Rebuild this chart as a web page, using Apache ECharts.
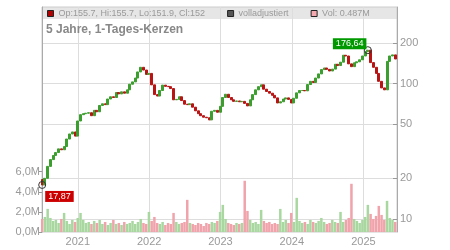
<!DOCTYPE html>
<html>
<head>
<meta charset="utf-8">
<script src="https://cdn.jsdelivr.net/npm/echarts@6/dist/echarts.min.js"></script>
<style>
  html, body { margin: 0; padding: 0; background: #fff; }
  #chart { width: 450px; height: 250px; }
</style>
</head>
<body>
<div id="chart"></div>
<script>
// one candle every 14 days, starting 3 Jul 2020
const startDate = new Date(2020, 6, 3)
const stepDays = 14
const firstOpen = 19.6

const closes = [
  17.87, 20, 24.5, 27.5, 29.5, 31, 33, 32.5, 34.3, 39,
  42.5, 44, 41, 53, 59, 60, 60.5, 61, 58, 63.5,
  62, 69, 71, 70, 77, 80, 79, 86, 84, 87,
  85, 90, 99, 103, 110, 122, 132, 126, 117, 119,
  98, 83, 81, 89, 97.5, 95.5, 95, 92, 76, 76.5,
  80, 75, 70.5, 70, 71, 67, 63, 60, 58, 56.5,
  56, 54, 62.5, 63.5, 61.5, 68, 79, 83.5, 79, 76,
  74, 74.5, 73.5, 74, 71.5, 68.5, 76, 83, 90, 95,
  98, 91, 87.5, 85, 82, 78.5, 72, 73.5, 77, 78.5,
  76.5, 72, 78, 85.5, 89, 89, 88.5, 98.5, 104, 102,
  110, 118, 127, 130.5, 127.5, 124, 128, 139, 136, 144,
  162, 160, 140, 133.5, 142.5, 145, 150, 160, 172, 176.64,
  143, 132, 119, 104, 93, 90, 146, 160, 163, 152
]

// volume in millions
const volumes = [
  1.3, 1.5, 2.3, 1.4, 1.1, 1.2, 0.9, 1.3, 1.9, 1.1,
  0.8, 1.2, 1.0, 1.4, 1.9, 1.2, 0.9, 1.0, 0.8, 1.1,
  0.9, 1.2, 0.8, 1.0, 0.7, 0.9, 1.2, 0.8, 0.9, 0.7,
  1.0, 0.8, 0.9, 1.1, 0.8, 1.0, 1.3, 0.9, 0.8, 2.0,
  1.1, 1.5, 0.9, 0.8, 1.0, 0.7, 0.9, 0.8, 1.9, 1.0,
  0.8, 0.9, 1.0, 3.2, 0.9, 0.8, 0.7, 0.9, 0.8, 0.6,
  0.9, 0.8, 1.0, 0.9, 1.1, 2.0, 2.7, 1.3, 0.9, 0.8,
  0.7, 0.9, 0.8, 0.9, 5.1, 2.1, 1.2, 0.9, 1.0, 0.8,
  2.2, 1.1, 0.9, 1.0, 0.8, 0.9, 0.8, 2.3, 1.0, 1.2,
  0.9, 1.9, 1.0, 3.4, 1.1, 0.9, 1.0, 0.8, 1.2, 1.0,
  0.9, 1.1, 1.4, 1.0, 0.8, 0.9, 1.2, 1.0, 0.9, 2.0,
  1.0, 1.2, 1.4, 4.8, 1.3, 1.1, 0.9, 1.2, 1.5, 2.7,
  1.8, 1.3, 1.6, 2.6, 1.7, 1.2, 3.1, 1.4, 1.2, 1.0
]

const years = [2021, 2022, 2023, 2024, 2025]
const priceTicks = [10, 20, 50, 100, 200]
const volTicks = [0, 2, 4, 6]
const legendNames = ['Op:155.7, Hi:155.7, Lo:151.9, Cl:152', 'volladjustiert', 'Vol: 0.487M']

const dayMs = 864e5
const yearTicks = years.map(y => new Date(y, 0, 1).getTime())
const candles = []
const volBars = []
let prev = firstOpen
closes.forEach((c, i) => {
  const t = startDate.getTime() + i * stepDays * dayMs
  candles.push([t, prev, c, Math.min(prev, c), Math.max(prev, c)])
  volBars.push({ value: [t, volumes[i]], itemStyle: { color: c >= prev ? '#a8d8a0' : '#f0a3ab' } })
  prev = c
})

const fmtNum = v => String(v).replace('.', ',')

const chart = echarts.init(document.getElementById('chart'))
chart.setOption({
  animation: false,
  textStyle: { fontFamily: 'Liberation Sans, Arial, sans-serif' },
  title: {
    text: '5 Jahre, 1-Tages-Kerzen',
    left: 46, top: 24, padding: 0,
    textStyle: { fontSize: 12, fontWeight: 'bold', color: '#888' }
  },
  legend: {
    left: 47, top: 9, padding: 0,
    itemWidth: 6, itemHeight: 6, itemGap: 22,
    selectedMode: false, icon: 'rect',
    textStyle: { fontSize: 9, color: '#999' },
    data: [
      { name: legendNames[0], itemStyle: { color: '#b00000', borderColor: '#222', borderWidth: 1 } },
      { name: legendNames[1], itemStyle: { color: '#555', borderColor: '#222', borderWidth: 1 } },
      { name: legendNames[2], itemStyle: { color: '#f4a8b0', borderColor: '#222', borderWidth: 1 } }
    ]
  },
  graphic: [
    { type: 'rect', z: -10, shape: { x: 42, y: 7, width: 355, height: 12 }, style: { fill: '#e6e6e6' } }
  ],
  grid: { left: 42, right: 53, top: 7, bottom: 18, show: true, borderColor: '#ccc', borderWidth: 1 },
  xAxis: {
    type: 'value',
    min: new Date(2020, 6, 2).getTime(),
    max: new Date(2025, 5, 22).getTime(),
    axisLine: { show: false },
    axisTick: { show: false, customValues: yearTicks },
    axisLabel: {
      customValues: yearTicks,
      formatter: v => String(new Date(v).getFullYear()),
      color: '#999', fontSize: 11, margin: 4
    },
    splitLine: { show: true, lineStyle: { color: '#ddd' } }
  },
  yAxis: [
    {
      type: 'log', position: 'right', min: 8.03, max: 368,
      axisLine: { show: true, lineStyle: { color: '#aaa' } },
      axisTick: { show: true, inside: true, length: 4, customValues: priceTicks, lineStyle: { color: '#999' } },
      axisLabel: { customValues: priceTicks, color: '#999', fontSize: 11, margin: 3 },
      splitLine: { show: true, lineStyle: { color: '#ddd' } }
    },
    {
      type: 'value', position: 'left', min: 0, max: 22.4,
      axisLine: { show: true, lineStyle: { color: '#aaa' } },
      axisTick: { show: true, length: 3, customValues: volTicks, lineStyle: { color: '#999' } },
      axisLabel: {
        customValues: volTicks,
        formatter: v => v.toFixed(1).replace('.', ',') + 'M',
        color: '#999', fontSize: 11, margin: 2
      },
      splitLine: { show: false }
    }
  ],
  series: [
    {
      name: legendNames[2],
      type: 'bar',
      yAxisIndex: 1,
      barWidth: 2.5,
      data: volBars
    },
    {
      name: legendNames[1],
      type: 'line',
      data: []
    },
    {
      name: legendNames[0],
      type: 'candlestick',
      yAxisIndex: 0,
      barWidth: 2.5,
      itemStyle: {
        color: '#3c9e2e', color0: '#b81414',
        borderColor: '#3c9e2e', borderColor0: '#b81414', borderWidth: 1
      },
      markPoint: {
        symbol: 'circle',
        symbolSize: 7,
        itemStyle: { color: 'rgba(255,255,255,0)', borderColor: '#333', borderWidth: 1 },
        data: [
          {
            type: 'min', valueDim: 'lowest',
            label: {
              position: [7, 10], formatter: p => fmtNum(p.value),
              color: '#fff', fontSize: 9, backgroundColor: '#cc0000', padding: [1, 3]
            }
          },
          {
            type: 'max', valueDim: 'highest',
            label: {
              position: [-31, -8], formatter: p => fmtNum(p.value),
              color: '#fff', fontSize: 9, backgroundColor: '#009900', padding: [1, 3]
            }
          }
        ]
      },
      data: candles
    }
  ]
})
</script>
</body>
</html>
